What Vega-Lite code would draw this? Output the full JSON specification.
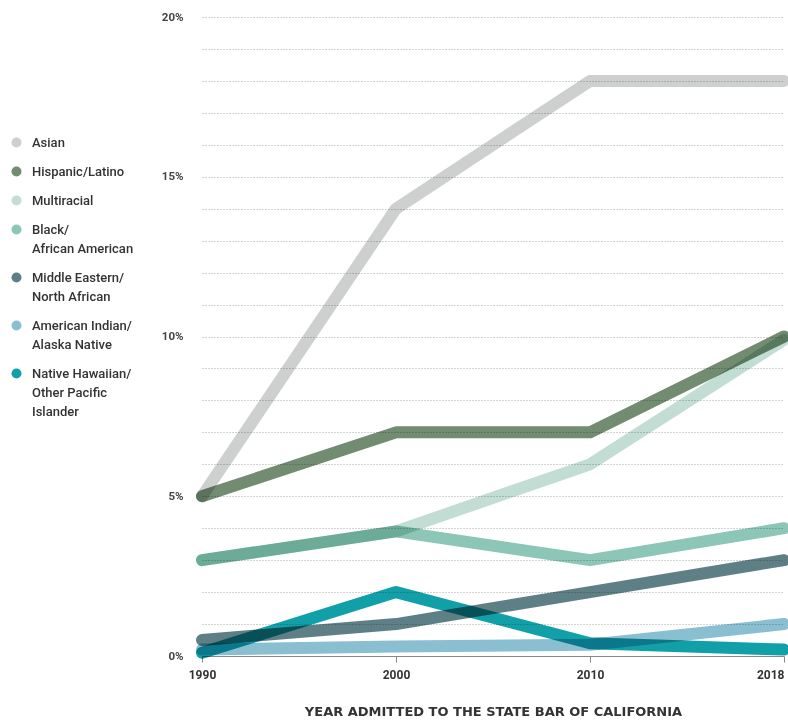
{
  "$schema": "https://vega.github.io/schema/vega-lite/v6.json",
  "width": 582,
  "height": 639,
  "autosize": "none",
  "padding": {"left": 202, "top": 17, "right": 4, "bottom": 67},
  "background": "white",
  "config": {"view": {"stroke": null}, "font": "Roboto", "style": {"guide-label": {"lineHeight": 19}}},
  "data": {"values": [
    {"series": "Asian", "year": "1990", "value": 5},
    {"series": "Asian", "year": "2000", "value": 14},
    {"series": "Asian", "year": "2010", "value": 18},
    {"series": "Asian", "year": "2018", "value": 18},
    {"series": "Hispanic/Latino", "year": "1990", "value": 5},
    {"series": "Hispanic/Latino", "year": "2000", "value": 7},
    {"series": "Hispanic/Latino", "year": "2010", "value": 7},
    {"series": "Hispanic/Latino", "year": "2018", "value": 10},
    {"series": "Multiracial", "year": "1990", "value": 3},
    {"series": "Multiracial", "year": "2000", "value": 3.9},
    {"series": "Multiracial", "year": "2010", "value": 6},
    {"series": "Multiracial", "year": "2018", "value": 9.9},
    {"series": "Black/African American", "year": "1990", "value": 3},
    {"series": "Black/African American", "year": "2000", "value": 3.9},
    {"series": "Black/African American", "year": "2010", "value": 3},
    {"series": "Black/African American", "year": "2018", "value": 4},
    {"series": "Middle Eastern/North African", "year": "1990", "value": 0.5},
    {"series": "Middle Eastern/North African", "year": "2000", "value": 1},
    {"series": "Middle Eastern/North African", "year": "2010", "value": 2},
    {"series": "Middle Eastern/North African", "year": "2018", "value": 3},
    {"series": "American Indian/Alaska Native", "year": "1990", "value": 0.2},
    {"series": "American Indian/Alaska Native", "year": "2000", "value": 0.3},
    {"series": "American Indian/Alaska Native", "year": "2010", "value": 0.35},
    {"series": "American Indian/Alaska Native", "year": "2018", "value": 1},
    {"series": "Native Hawaiian/Other Pacific Islander", "year": "1990", "value": 0.1},
    {"series": "Native Hawaiian/Other Pacific Islander", "year": "2000", "value": 2},
    {"series": "Native Hawaiian/Other Pacific Islander", "year": "2010", "value": 0.4},
    {"series": "Native Hawaiian/Other Pacific Islander", "year": "2018", "value": 0.2}
  ]},
  "encoding": {
    "x": {
      "field": "year", "type": "ordinal",
      "scale": {"type": "point", "padding": 0},
      "axis": {
        "title": "YEAR ADMITTED TO THE STATE BAR OF CALIFORNIA",
        "titleFont": "DejaVu Sans", "titleFontSize": 13, "titleFontWeight": "bold",
        "titleColor": "#333", "titlePadding": 25,
        "labelAngle": 0, "labelFontWeight": "bold", "labelFontSize": 12, "labelColor": "#333",
        "labelAlign": {"condition": {"test": "datum.value == '2018'", "value": "right"}, "value": "center"},
        "labelPadding": 7, "domainColor": "#888", "tickColor": "#888", "tickSize": 6, "grid": false
      }
    },
    "y": {
      "field": "value", "type": "quantitative",
      "scale": {"domain": [0, 20], "nice": false},
      "axis": {
        "title": null,
        "values": [0,1,2,3,4,5,6,7,8,9,10,11,12,13,14,15,16,17,18,19,20],
        "labelExpr": "datum.value % 5 == 0 ? datum.value + '%' : ''",
        "labelFontSize": 11.5, "labelFontWeight": "bold", "labelColor": "#444", "labelPadding": 19,
        "domain": false, "ticks": false,
        "grid": true, "gridColor": "#a8a8a8", "gridDash": [1, 2], "gridWidth": 1
      }
    },
    "color": {
      "field": "series", "type": "nominal",
      "scale": {
        "domain": ["Asian", "Hispanic/Latino", "Multiracial", "Black/African American", "Middle Eastern/North African", "American Indian/Alaska Native", "Native Hawaiian/Other Pacific Islander"],
        "range": ["#cdd0cf", "#728c72", "#c2ddd3", "#8cc6b6", "#5f7f86", "#8abfd2", "#12a0a8"]
      },
      "legend": {
        "title": null, "orient": "none", "legendX": -192, "legendY": 119,
        "symbolType": "circle", "symbolSize": 100, "symbolOpacity": 1, "symbolStrokeWidth": 0,
        "labelFontSize": 13, "labelColor": "#333", "labelFontWeight": 500, "labelOffset": 9,
        "labelLimit": 200, "rowPadding": 15,
        "labelExpr": "datum.label == 'Black/African American' ? ['Black/', 'African American'] : datum.label == 'Middle Eastern/North African' ? ['Middle Eastern/', 'North African'] : datum.label == 'American Indian/Alaska Native' ? ['American Indian/', 'Alaska Native'] : datum.label == 'Native Hawaiian/Other Pacific Islander' ? ['Native Hawaiian/', 'Other Pacific', 'Islander'] : datum.label"
      }
    }
  },
  "layer": [
    {"mark": {"type": "point", "filled": true, "opacity": 0, "shape": "circle"}},
    {"mark": {"type": "line", "strokeWidth": 12, "strokeCap": "round", "strokeJoin": "round", "blend": "multiply"}}
  ]
}
